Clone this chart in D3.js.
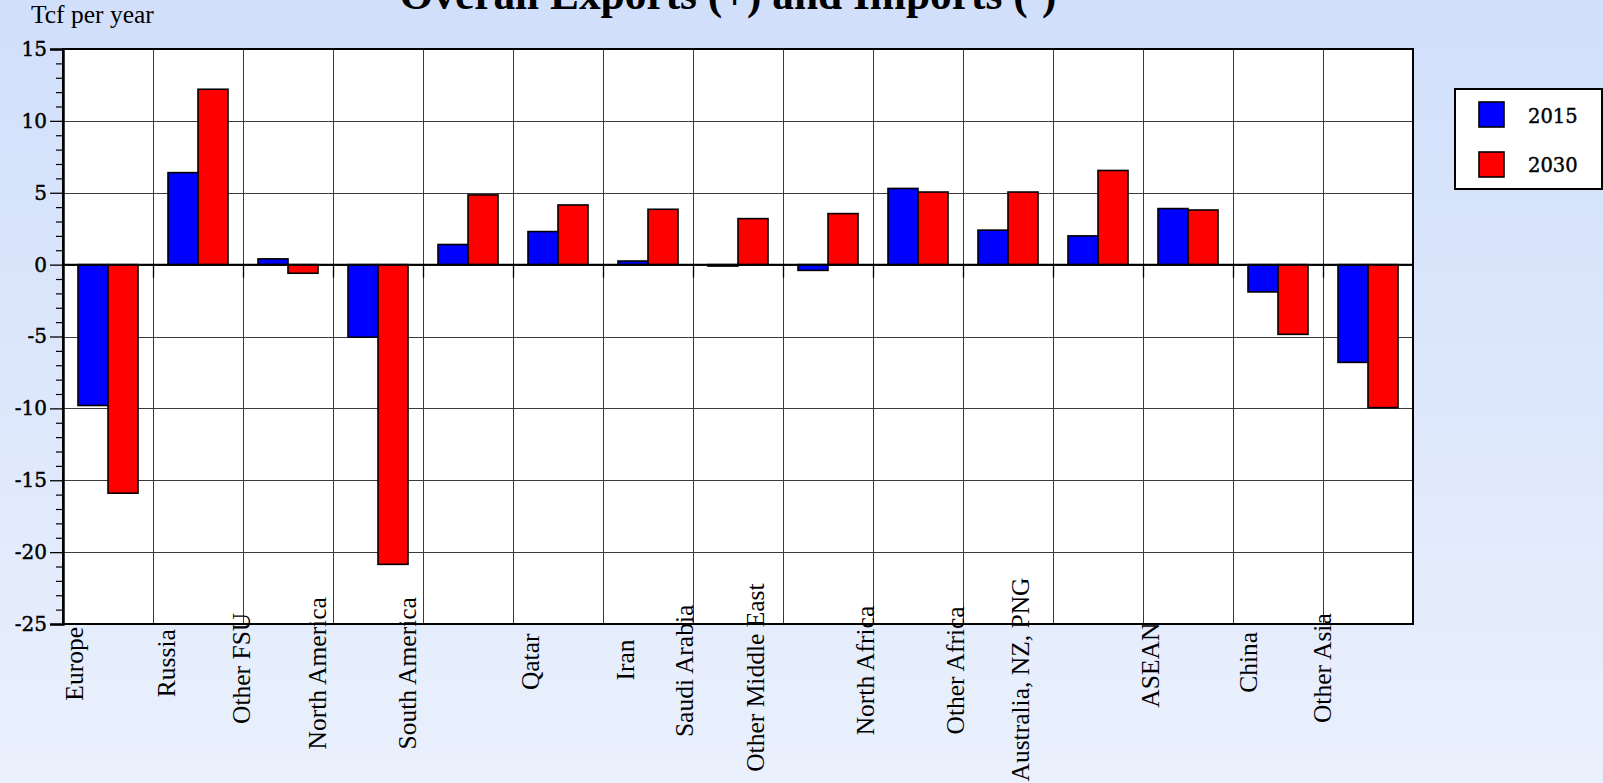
<!DOCTYPE html>
<html>
<head>
<meta charset="utf-8">
<script src="https://cdn.jsdelivr.net/npm/d3@7/dist/d3.min.js"></script>
<style>
html,body{margin:0;padding:0;overflow:hidden;}
svg{display:block;}
</style>
</head>
<body>
<script>
// ---- data ----
const categories = ["Europe","Russia","Other FSU","North America","South America","Qatar","Iran","Saudi Arabia","Other Middle East","North Africa","Other Africa","Australia, NZ, PNG","ASEAN","China","Other Asia"];
const seriesNames = ["2015","2030"];
const values2015 = [-9.8, 6.4, 0.4, -5.05, 1.4, 2.3, 0.25, -0.1, -0.4, 5.3, 2.4, 2.0, 3.9, -1.9, -6.8];
const values2030 = [-15.9, 12.2, -0.6, -20.85, 4.85, 4.15, 3.85, 3.2, 3.55, 5.05, 5.05, 6.55, 3.8, -4.85, -9.95];
const yTicks = [15, 10, 5, 0, -5, -10, -15, -20, -25];
const titleText = "Overall Exports (+) and Imports (-)";
const unitText = "Tcf per year";
const seriesColors = ["#0000ff", "#ff0000"];

// ---- layout ----
const W = 1603, H = 783;
const plot = {left: 63, right: 1413, top: 49, bottom: 624};

const svg = d3.select("body").append("svg").attr("width", W).attr("height", H);
const defs = svg.append("defs");
const grad = defs.append("linearGradient").attr("id", "bg").attr("x1", 0).attr("y1", 0).attr("x2", 0).attr("y2", 1);
grad.append("stop").attr("offset", "0%").attr("stop-color", "#d1dffb");
grad.append("stop").attr("offset", "100%").attr("stop-color", "#eaf0fc");
svg.append("rect").attr("width", W).attr("height", H).attr("fill", "url(#bg)");

const x = d3.scaleBand().domain(categories).range([plot.left, plot.right]).paddingInner(0).paddingOuter(0);
const xSub = d3.scaleBand().domain(seriesNames).range([0, x.bandwidth()]).paddingInner(0).paddingOuter(0.5);
const y = d3.scaleLinear().domain([-25, 15]).range([plot.bottom, plot.top]);

// plot background
svg.append("rect").attr("x", plot.left).attr("y", plot.top)
  .attr("width", plot.right - plot.left).attr("height", plot.bottom - plot.top)
  .attr("fill", "#ffffff");

// horizontal gridlines
svg.append("g").selectAll("line").data(yTicks).join("line")
  .attr("x1", plot.left).attr("x2", plot.right)
  .attr("y1", d => Math.round(y(d)) + 0.5).attr("y2", d => Math.round(y(d)) + 0.5)
  .attr("stroke", "#3a3a3a").attr("stroke-width", 1);

// vertical gridlines at category boundaries
const bounds = categories.slice(1).map(c => x(c));
svg.append("g").selectAll("line").data(bounds).join("line")
  .attr("x1", d => Math.round(d) + 0.5).attr("x2", d => Math.round(d) + 0.5)
  .attr("y1", plot.top).attr("y2", plot.bottom)
  .attr("stroke", "#3a3a3a").attr("stroke-width", 1);

// bars
const rows = categories.map((c, i) => ({cat: c, vals: [values2015[i], values2030[i]]}));
const gBars = svg.append("g");
rows.forEach(r => {
  r.vals.forEach((v, j) => {
    const s = seriesNames[j];
    gBars.append("rect")
      .attr("x", x(r.cat) + xSub(s))
      .attr("width", xSub.bandwidth())
      .attr("y", Math.min(y(v), y(0)))
      .attr("height", Math.abs(y(v) - y(0)))
      .attr("fill", seriesColors[j])
      .attr("stroke", "#000").attr("stroke-width", 1.6);
  });
});

// zero line with small category ticks below it
svg.append("line").attr("x1", plot.left).attr("x2", plot.right)
  .attr("y1", y(0)).attr("y2", y(0)).attr("stroke", "#000").attr("stroke-width", 2);
svg.append("g").selectAll("line").data(bounds).join("line")
  .attr("x1", d => Math.round(d) + 0.5).attr("x2", d => Math.round(d) + 0.5)
  .attr("y1", y(0)).attr("y2", y(0) + 13)
  .attr("stroke", "#000").attr("stroke-width", 1.3);

// plot border
svg.append("rect").attr("x", plot.left).attr("y", plot.top)
  .attr("width", plot.right - plot.left).attr("height", plot.bottom - plot.top)
  .attr("fill", "none").attr("stroke", "#000").attr("stroke-width", 2);

// y axis: minor ticks
const minor = d3.range(-25, 16, 1).filter(v => yTicks.indexOf(v) < 0);
svg.append("g").attr("transform", `translate(${plot.left},0)`)
  .call(d3.axisLeft(y).tickValues(minor).tickSize(7).tickFormat(""))
  .call(g => g.select(".domain").remove())
  .call(g => g.selectAll("line").attr("stroke", "#000").attr("stroke-width", 1.2));
// y axis: major ticks + labels (plain hyphen as minus sign)
svg.append("g").attr("transform", `translate(${plot.left},0)`)
  .call(d3.axisLeft(y).tickValues(yTicks).tickSize(13).tickPadding(3).tickFormat(d => String(d)))
  .call(g => g.select(".domain").attr("stroke", "#000").attr("stroke-width", 2.5))
  .call(g => g.selectAll("line").attr("stroke", "#000").attr("stroke-width", 1.3))
  .call(g => g.selectAll("text").attr("font-family", "'DejaVu Serif', serif")
      .attr("font-size", 20).attr("fill", "#000")
      .attr("stroke", "#000").attr("stroke-width", 0.45));

// category labels (rotated), placed by measured text length
const gLab = svg.append("g");
categories.forEach(c => {
  const t = gLab.append("text").text(c)
    .attr("font-family", "'Liberation Serif', 'Times New Roman', serif")
    .attr("font-size", 25.5).attr("fill", "#000").attr("text-anchor", "start");
  const L = t.node().getComputedTextLength();
  const cx = x(c) + x.bandwidth() / 2;
  t.attr("transform", `translate(${cx - 0.34 * L},${plot.bottom + 31 + 0.62 * L}) rotate(-90)`);
});

// title (partly above the page)
const title = svg.append("text").text(titleText)
  .attr("font-family", "'Liberation Serif', 'Times New Roman', serif")
  .attr("font-weight", "bold").attr("font-size", 40).attr("fill", "#000")
  .attr("text-anchor", "middle").attr("x", 728).attr("y", 9);
const tl = title.node().getComputedTextLength();
title.attr("font-size", 40 * 657 / tl);

// unit label
svg.append("text").text(unitText)
  .attr("font-family", "'Liberation Serif', 'Times New Roman', serif")
  .attr("font-size", 25.5).attr("fill", "#000")
  .attr("x", 31).attr("y", 23);

// legend
const lg = svg.append("g");
lg.append("rect").attr("x", 1455).attr("y", 89).attr("width", 147).attr("height", 100)
  .attr("fill", "#fff").attr("stroke", "#000").attr("stroke-width", 2);
seriesNames.forEach((s, i) => {
  lg.append("rect").attr("x", 1479).attr("y", 102 + i * 50).attr("width", 25).attr("height", 25)
    .attr("fill", seriesColors[i]).attr("stroke", "#000").attr("stroke-width", 1.6);
  lg.append("text").text(s).attr("x", 1528).attr("y", 123 + i * 49)
    .attr("font-family", "'DejaVu Serif', serif").attr("font-size", 19.5).attr("fill", "#000")
    .attr("stroke", "#000").attr("stroke-width", 0.4);
});
</script>
</body>
</html>
